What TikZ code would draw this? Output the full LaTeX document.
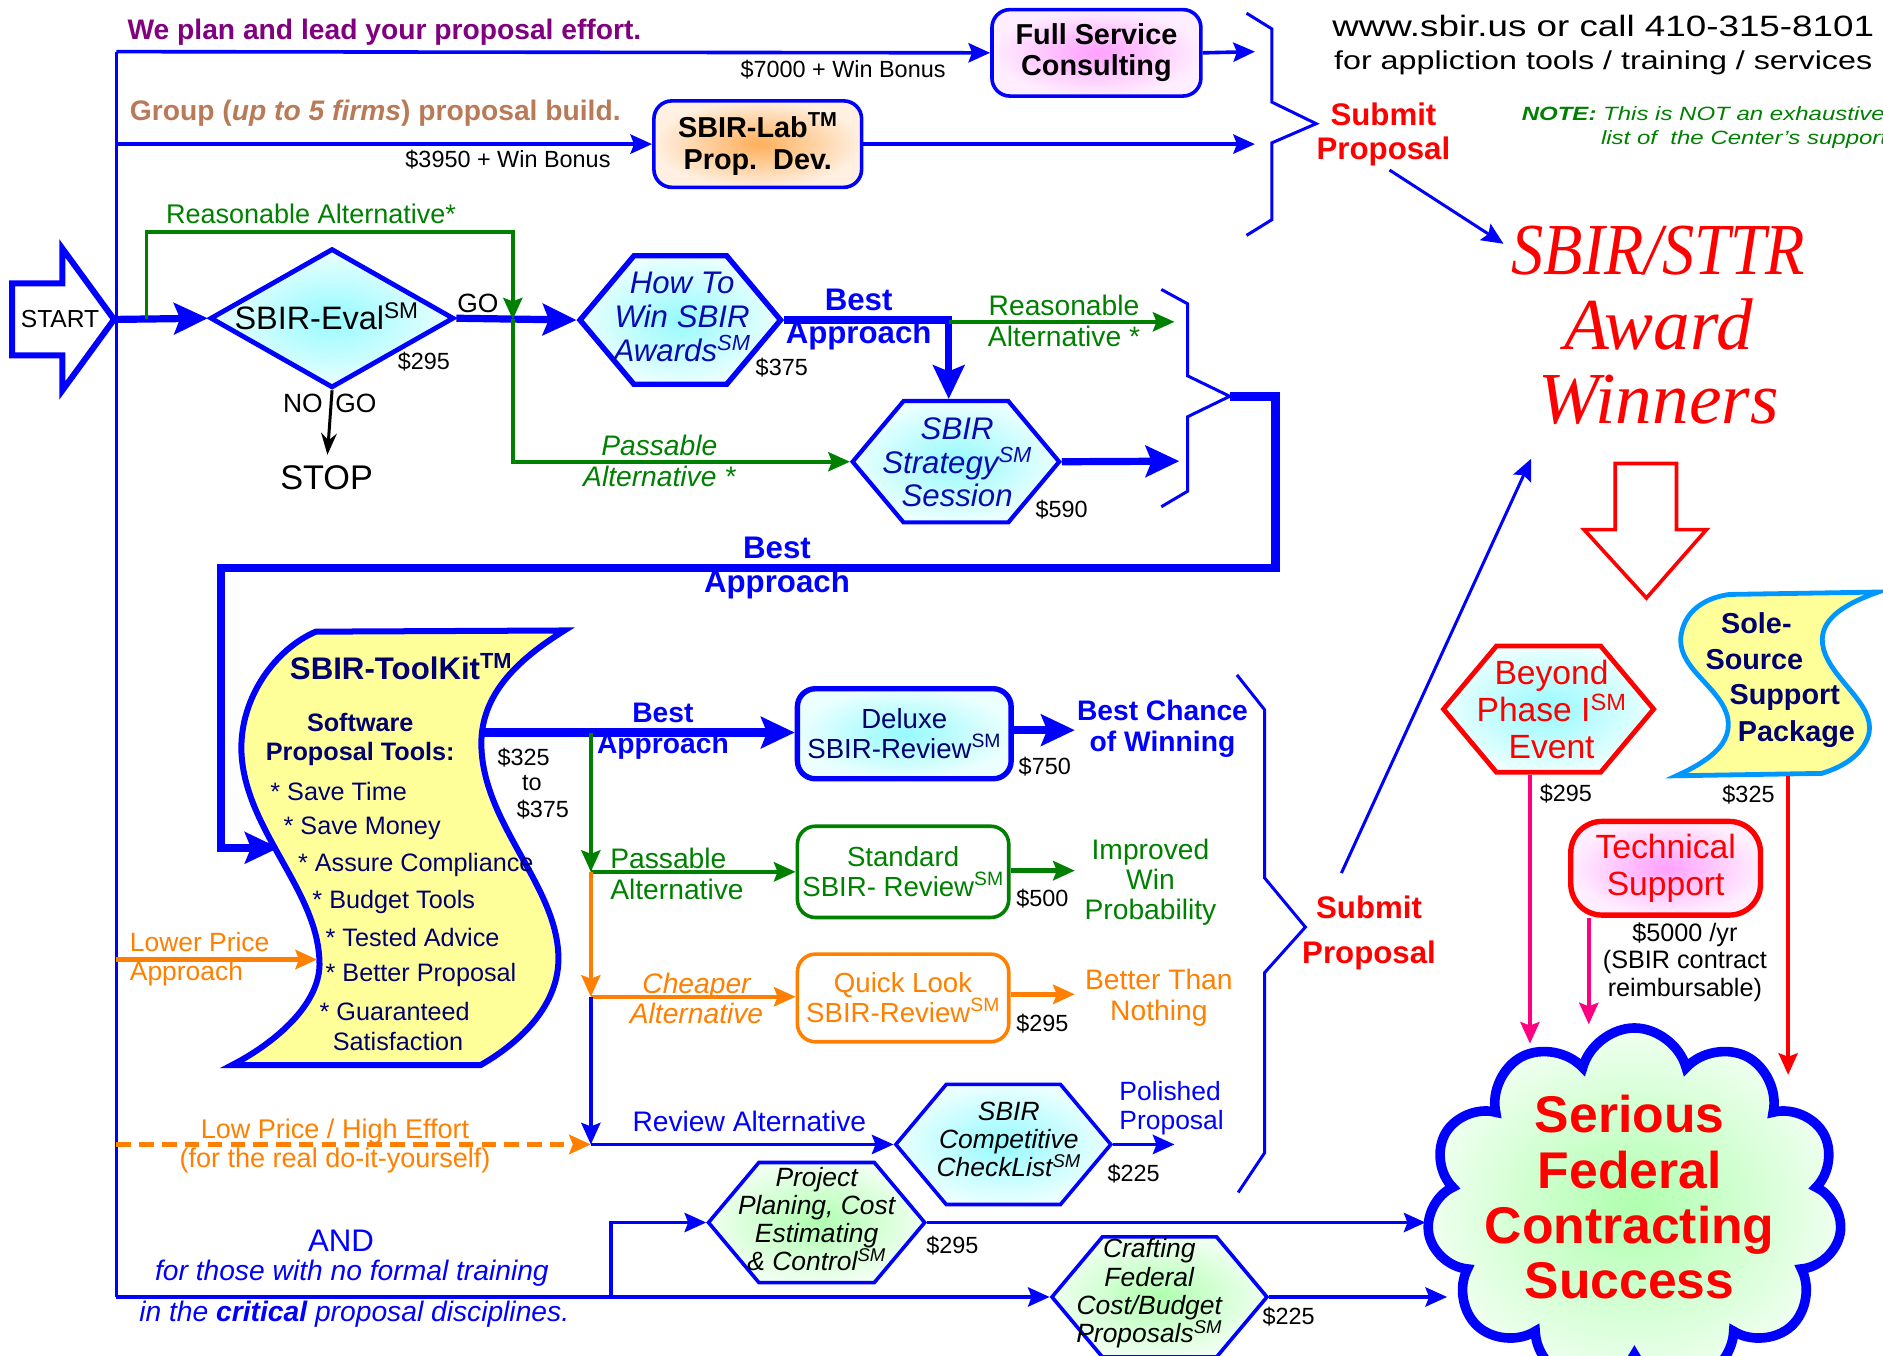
\documentclass[tikz,border=0pt]{standalone}
\usepackage{fontspec}
\setmainfont{Liberation Sans}
\newfontfamily\awardfont{Liberation Serif}
\newfontfamily\awardnarrow{Liberation Serif}[FakeStretch=0.88]
\newfontfamily\widefont{Liberation Sans}[FakeStretch=1.25]
\usetikzlibrary{arrows.meta,shapes.geometric,shapes.symbols}
\newcommand\fsz[2]{\fontsize{#1pt}{#2pt}\selectfont}
\definecolor{sbblue}{RGB}{0,0,255}
\definecolor{sbdeep}{RGB}{10,10,175}
\definecolor{sbnavy}{RGB}{0,0,110}
\definecolor{sbgreen}{RGB}{0,128,0}
\definecolor{sborange}{RGB}{255,128,0}
\definecolor{sbpurple}{RGB}{128,0,128}
\definecolor{sbbrown}{RGB}{185,122,87}
\definecolor{sbred}{RGB}{255,0,0}
\definecolor{sbmag}{RGB}{255,0,128}
\definecolor{sbsky}{RGB}{0,150,255}
\definecolor{sbyellow}{RGB}{255,255,153}
\definecolor{cyanin}{RGB}{150,250,255}
\definecolor{cyanout}{RGB}{235,255,255}
\definecolor{pinkin}{RGB}{255,160,255}
\definecolor{pinkout}{RGB}{255,238,255}
\definecolor{orgin}{RGB}{255,175,90}
\definecolor{orgout}{RGB}{255,240,225}
\definecolor{grnin}{RGB}{175,255,175}
\definecolor{grnout}{RGB}{240,255,240}
\tikzset{
  txt/.style={inner sep=0pt, align=center},
  price/.style={txt, font=\fsz{19.5}{22}},
  thinb/.style={draw=sbblue, line width=3pt},
  thickb/.style={draw=sbblue, line width=6pt},
  grnl/.style={draw=sbgreen, line width=3pt},
  orgl/.style={draw=sborange, line width=3.5pt},
  bigtip/.style={-{Stealth[length=28pt,width=26pt,inset=5pt]}},
  smalltip/.style={-{Stealth[length=18pt,width=16pt,inset=3pt]}},
  hexa/.style={signal, signal to=east and west, signal pointer angle=100,
    inner sep=0pt, line width=3pt},
  roundbox/.style={rectangle, rounded corners=15pt, inner sep=0pt, align=center},
  cyanfill/.style={inner color=cyanin, outer color=cyanout},
  grnfill/.style={inner color=grnin, outer color=grnout},
  hextxt/.style={txt, font=\fsz{26}{28}\itshape, text=sbdeep},
  smhextxt/.style={txt, font=\fsz{22}{23.5}\itshape},
}
\begin{document}
\begin{tikzpicture}[x=1pt,y=-1pt]
\useasboundingbox (0,0) rectangle (1568,1129);

% Left feed line
\coordinate (vtop) at (97,43);
\coordinate (vlab) at (97,120);
\coordinate (vlow) at (97,799);
\coordinate (vdash) at (97,953);
\coordinate (vbot) at (97,1080);
\draw[thinb] (vtop) -- (vbot);

% Top services
\node[roundbox, draw=sbblue, line width=3pt, inner color=pinkin, outer color=pinkout,
  minimum width=174pt, minimum height=72pt, font=\fsz{24}{26}\bfseries] (full) at (913,44) {Full Service\\Consulting};
\node[roundbox, draw=sbblue, line width=3pt, inner color=orgin, outer color=orgout,
  minimum width=173pt, minimum height=72pt, font=\fsz{24}{27}\bfseries] (lab) at (631,120) {SBIR-Lab\textsuperscript{TM}\\Prop.\ \ Dev.};
\node[txt, anchor=west, text=sbpurple, font=\fsz{23.5}{26}\bfseries] (plan) at (106,27) {We plan and lead your proposal effort.};
\node[txt, anchor=west, text=sbbrown, font=\fsz{23.5}{26}\bfseries] (group) at (108,94) {Group (\textit{up to 5 firms}) proposal build.};
\node[price] (fullp) at (702,58) {\$7000 + Win Bonus};
\node[price] (labp) at (423,133) {\$3950 + Win Bonus};
\coordinate (br1a) at (1045,43);
\coordinate (br1b) at (1045,120);
\draw[thinb, smalltip] (vtop) -- (full.west);
\draw[thinb, smalltip] (vlab) -- (lab.west);
\draw[thinb, smalltip] (full.east) -- (br1a);
\draw[thinb, smalltip] (lab.east) -- (br1b);
\draw[sbblue, line width=2.5pt] (1038,11) -- (1059,24) -- (1059,85) -- (1096,103) -- (1059,119) -- (1059,183) -- (1038,196);
\node[txt, text=sbred, font=\fsz{26}{28}\bfseries] (sub1) at (1152,112) {Submit\\Proposal};

% Contact and note
\node[txt, font=\widefont\fsz{24.5}{29}] (url) at (1335,22) {www.sbir.us or call 410-315-8101};
\node[txt, font=\widefont\fsz{21.5}{25}] (url2) at (1335,52) {for appliction tools / training / services};
\node[txt, anchor=west, text=sbgreen, font=\widefont\fsz{16}{20}\itshape] (note1) at (1267,95) {\textbf{NOTE:} This is NOT an exhaustive};
\node[txt, anchor=west, text=sbgreen, font=\widefont\fsz{16}{20}\itshape] (note2) at (1333,116) {list of~ the Center’s support};

% Award winners
\node[txt, text=sbred, font=\awardfont\itshape\fsz{61}{62}] (award) at (1381,271) {{\awardnarrow SBIR/STTR}\\Award\\Winners};
\coordinate (awardin) at (1252,203);
\coordinate (awardup) at (1275,382);
\draw[thinb, line width=2.5pt, smalltip, shorten <=6pt] (sub1.south) -- (awardin);
\draw[sbred, line width=3pt, fill=white] (1345,386) -- (1396,386) -- (1396,441) -- (1421,441) -- (1371,498) -- (1319,441) -- (1345,441) -- cycle;

% Evaluation row
\draw[sbblue, line width=5pt, fill=white] (10,236) -- (52,236) -- (52,207) -- (95,266) -- (52,325) -- (52,296) -- (10,296) -- cycle;
\node[txt, font=\fsz{20.5}{22}] (start) at (50,266) {START};
\coordinate (starttip) at (95,266);
\node[diamond, draw=sbblue, line width=4pt, cyanfill, minimum width=203pt, minimum height=116pt, inner sep=0pt] (eval) at (276.5,265) {};
\node[txt, font=\fsz{27}{29}] (evaltxt) at (272,263) {SBIR-Eval\textsuperscript{SM}};
\node[price] (evalp) at (353,301) {\$295};
\node[txt, font=\fsz{22}{24}] (go) at (398,253) {GO};
\node[txt, anchor=east, font=\fsz{22}{24}] (no) at (269,336) {NO};
\node[txt, anchor=west, font=\fsz{22}{24}] (nogo) at (279,336) {GO};
\node[txt, font=\fsz{28.5}{30}] (stop) at (272,398) {STOP};
\node[hexa, draw=sbblue, line width=4.5pt, cyanfill, minimum width=167pt, minimum height=107pt] (howto) at (566.5,266.5) {};
\node[hextxt] (howtotxt) at (568,264) {How To\\Win SBIR\\Awards\textsuperscript{SM}};
\node[price] (howtop) at (651,306) {\$375};
\node[hexa, draw=sbblue, line width=3.5pt, cyanfill, minimum width=172pt, minimum height=101pt] (strat) at (796,384.5) {};
\node[hextxt] (strattxt) at (797,385) {SBIR\\Strategy\textsuperscript{SM}\\Session};
\node[price] (stratp) at (884,424) {\$590};
\node[txt, text=sbgreen, font=\fsz{22.5}{25}] (reas1) at (259,178) {Reasonable Alternative*};
\node[txt, text=sbgreen, font=\fsz{23.5}{26}\itshape] (pass1) at (549,384) {Passable\\Alternative *};
\node[txt, text=sbblue, font=\fsz{26}{28}\bfseries] (best1) at (715,266) {Best\\Approach};
\node[txt, text=sbgreen, font=\fsz{23.5}{26}] (reas2) at (886,267) {Reasonable\\Alternative *};
\coordinate (jeval) at (122,266);
\coordinate (jgo) at (427,266);
\coordinate (jbest) at (790,268);
\coordinate (reasout) at (978,268);
\coordinate (stratout) at (982,384);
\draw[thickb, bigtip] (starttip) -- (eval.west);
\draw[thickb, bigtip] (eval.east) -- (howto.west);
\draw[grnl, smalltip] (jeval) |- (427,193) -- (jgo);
\draw[grnl, smalltip] (jgo) |- (strat.west);
\draw[black, line width=2.5pt, -{Stealth[length=18pt,width=13pt]}, shorten >=9pt] (eval.south) -- (stop.north);
\draw[thickb, bigtip] (howto.east) -| ([xshift=-6pt]strat.north);
\draw[grnl, smalltip] (jbest) -- (reasout);
\draw[thickb, bigtip] (strat.east) -- (stratout);
\draw[sbblue, line width=2.5pt] (967,241) -- (989,253) -- (989,313) -- (1024,330) -- (989,347) -- (989,409) -- (967,422);
\coordinate (br2) at (1024,330);
\coordinate (tkin) at (232,706);
\draw[thickb, line width=7pt, bigtip] (br2) -- (1062,330) -- (1062,473) -- (184,473) -- (184,706) -- (tkin);
\node[txt, text=sbblue, font=\fsz{26}{28}\bfseries] (best2) at (647,473) {Best\\Approach};

% Toolkit
\path[draw=sbblue, line width=5pt, fill=sbyellow] (263,526) -- (470,525)
  .. controls (430,550) and (398,580) .. (401,625)
  .. controls (405,690) and (466,740) .. (465,800)
  .. controls (464,840) and (430,870) .. (400,887) -- (193,887)
  .. controls (230,868) and (268,835) .. (266,800)
  .. controls (264,740) and (203,690) .. (201,625)
  .. controls (200,580) and (230,540) .. (263,526) -- cycle;
\node[txt, text=sbnavy, font=\fsz{26}{28}\bfseries] (tkhead) at (334,555) {SBIR-ToolKit\textsuperscript{TM}};
\node[txt, text=sbnavy, font=\fsz{21}{24}\bfseries] (tksoft) at (300,616) {Software\\Proposal Tools:};
\foreach \x/\y/\t [count=\i] in {225/659/{* Save Time}, 236/690/{* Save Money}, 248/720/{* Assure Compliance},
  260/751/{* Budget Tools}, 271/781/{* Tested Advice}, 271/812/{* Better Proposal}, 266/842/{* Guaranteed}, 277/867/{Satisfaction}}
  \node[txt, anchor=west, text=sbnavy, font=\fsz{21}{24}] (tkb\i) at (\x,\y) {\t};
\foreach \x/\y/\t [count=\i] in {436/631/\$325, 443/652/to, 452/674/\$375}
  \node[price] (tkp\i) at (\x,\y) {\t};
\coordinate (tkout) at (401,610);
\coordinate (tklow) at (264,799);

% Review options
\node[roundbox, draw=sbblue, line width=4.5pt, cyanfill, minimum width=178pt, minimum height=75pt,
  text=sbnavy, font=\fsz{23}{25}] (deluxe) at (753,611) {Deluxe\\SBIR-Review\textsuperscript{SM}};
\node[roundbox, draw=sbgreen, line width=3pt, fill=white, minimum width=176pt, minimum height=76pt,
  text=sbgreen, font=\fsz{23}{25}] (standard) at (752,726) {Standard\\SBIR- Review\textsuperscript{SM}};
\node[roundbox, draw=sborange, line width=3pt, fill=white, minimum width=176pt, minimum height=73pt,
  text=sborange, font=\fsz{23}{25}] (quick) at (752,831) {Quick Look\\SBIR-Review\textsuperscript{SM}};
\node[price] (deluxep) at (870,638) {\$750};
\node[price] (standardp) at (868,748) {\$500};
\node[price] (quickp) at (868,852) {\$295};
\node[txt, text=sbblue, font=\fsz{23.5}{26}\bfseries] (best3) at (552,609) {Best\\Approach};
\node[txt, anchor=west, align=left, text=sbgreen, font=\fsz{23.5}{26}] (pass2) at (508,728) {Passable\\Alternative};
\node[txt, text=sborange, font=\fsz{23.5}{25}\itshape] (cheap) at (580,831) {Cheaper\\Alternative};
\node[txt, text=sbblue, font=\fsz{23.5}{26}] (revalt) at (624,934) {Review Alternative};
\node[txt, text=sbblue, font=\fsz{23.5}{26}\bfseries] (chance) at (968,607) {Best Chance\\of Winning};
\node[txt, text=sbgreen, font=\fsz{23.5}{25}] (improved) at (958,735) {Improved\\Win\\Probability};
\node[txt, text=sborange, font=\fsz{23.5}{26}] (better) at (965,831) {Better Than\\Nothing};
\node[txt, anchor=west, align=left, text=sborange, font=\fsz{22}{24}] (lower) at (108,799) {Lower Price\\Approach};
\node[txt, text=sborange, font=\fsz{22.5}{24}] (lowhigh) at (279,954) {Low Price / High Effort\\(for the real do-it-yourself)};
\node[hexa, draw=sbblue, line width=3pt, cyanfill, minimum width=179pt, minimum height=100pt] (check) at (835.5,953) {};
\node[smhextxt] (checktxt) at (840,949) {SBIR\\Competitive\\CheckList\textsuperscript{SM}};
\node[price] (checkp) at (944,977) {\$225};
\node[txt, anchor=west, align=left, text=sbblue, font=\fsz{22}{24}] (polished) at (932,923) {Polished\\Proposal};
\coordinate (jg) at (492,610);
\coordinate (jo) at (492,726);
\coordinate (jr) at (492,830);
\coordinate (jb) at (492,953);
\draw[thickb, line width=7pt, bigtip] (tkout) -- (deluxe.west |- tkout);
\draw[grnl, smalltip] (jg) -- (jo);
\draw[grnl, line width=3.5pt, smalltip] (jo) -- (standard.west);
\draw[orgl, line width=3pt, smalltip] (jo) -- (jr);
\draw[orgl, smalltip] (jr) -- (quick.west |- jr);
\draw[thinb, smalltip] (jr) -- (jb);
\draw[thinb, smalltip] (jb) -- (check.west);
\draw[orgl, line width=4pt, dash pattern=on 12pt off 7pt, smalltip] (vdash) -- (jb);
\draw[orgl, smalltip] (vlow) -- (tklow);
\coordinate (chanceout) at (895,608);
\coordinate (improvedout) at (895,725);
\coordinate (betterout) at (895,828);
\coordinate (polishedout) at (978,953);
\draw[thickb, line width=7pt, bigtip] (deluxe.east |- chanceout) -- (chanceout);
\draw[grnl, line width=4pt, smalltip] (standard.east |- improvedout) -- (improvedout);
\draw[orgl, line width=4pt, smalltip] (quick.east |- betterout) -- (betterout);
\draw[thinb, smalltip] (check.east) -- (polishedout);
\draw[sbblue, line width=2.5pt] (1030,562) -- (1053,591) -- (1053,731) -- (1087,772) -- (1053,810) -- (1053,960) -- (1031,993);
\node[txt, text=sbred, font=\fsz{26}{37}\bfseries] (sub2) at (1140,777) {Submit\\Proposal};
\coordinate (sub2out) at (1117,727);
\draw[thinb, line width=2.5pt, smalltip] (sub2out) -- (awardup);

% Training courses
\node[txt, text=sbblue, font=\fsz{26}{28}] (and) at (284,1033) {AND};
\node[txt, text=sbblue, font=\fsz{23.5}{26}\itshape] (train1) at (293,1060) {for those with no formal training};
\node[txt, text=sbblue, font=\fsz{23.5}{26}\itshape] (train2) at (295,1094) {in the \textbf{critical} proposal disciplines.};
\node[hexa, draw=sbblue, line width=3pt, grnfill, minimum width=180pt, minimum height=100pt] (proj) at (680,1018) {};
\node[smhextxt] (projtxt) at (680,1015) {Project\\Planing, Cost\\Estimating\\\& Control\textsuperscript{SM}};
\node[price] (projp) at (793,1037) {\$295};
\node[hexa, draw=sbblue, line width=3pt, grnfill, minimum width=179pt, minimum height=100pt] (craft) at (965.5,1080) {};
\node[smhextxt] (crafttxt) at (957,1077) {Crafting\\Federal\\Cost/Budget\\Proposals\textsuperscript{SM}};
\node[price] (craftp) at (1073,1096) {\$225};

% Success cloud and support services
\node[cloud, cloud puffs=11, cloud ignores aspect, draw=sbblue, line width=8pt, grnfill,
  minimum width=346pt, minimum height=300pt, inner sep=0pt] (success) at (1361,1006) {};
\node[txt, text=sbred, font=\fsz{43}{46}\bfseries] (successtxt) at (1357,997) {Serious\\Federal\\Contracting\\Success};
\coordinate (jp) at (509,1080);
\coordinate (cin1) at (1187,1018);
\coordinate (cin2) at (1205,1080);
\draw[thinb, smalltip] (vbot) -- (craft.west);
\draw[thinb, smalltip] (jp) |- (proj.west);
\draw[thinb, smalltip] (proj.east) -- (cin1);
\draw[thinb, smalltip] (craft.east) -- (cin2);
\node[hexa, draw=sbred, line width=4pt, cyanfill, minimum width=175pt, minimum height=105pt] (beyond) at (1289.5,590.5) {};
\node[txt, text=sbred, font=\fsz{28}{31}] (beyondtxt) at (1292,591) {Beyond\\Phase I\textsuperscript{SM}\\Event};
\node[price] (beyondp) at (1304,661) {\$295};
\path[draw=sbsky, line width=4pt, fill=sbyellow] (1440,495) -- (1564,493)
  .. controls (1530,505) and (1510,520) .. (1520,545)
  .. controls (1530,570) and (1565,590) .. (1555,615)
  .. controls (1548,632) and (1530,640) .. (1517,644) -- (1396,646)
  .. controls (1420,635) and (1445,620) .. (1438,595)
  .. controls (1430,570) and (1395,555) .. (1400,528)
  .. controls (1404,505) and (1425,497) .. (1440,495) -- cycle;
\foreach \x/\y/\t [count=\i] in {1433/519/Sole-, 1420/549/Source, 1440/581/Support, 1447/611/Package}
  \node[txt, anchor=west, text=sbnavy, font=\fsz{24}{26}\bfseries] (sole\i) at (\x,\y) {\t};
\node[price] (solep) at (1456,662) {\$325};
\node[roundbox, rounded corners=26pt, draw=sbred, line width=4.5pt, inner color=pinkin, outer color=pinkout,
  minimum width=158pt, minimum height=78pt, text=sbred, font=\fsz{28}{31}] (tech) at (1387,723) {Technical\\Support};
\node[txt, font=\fsz{21}{23}] (techp) at (1403,801) {\$5000 /yr\\(SBIR contract\\reimbursable)};
\coordinate (bin) at (1274,869);
\coordinate (tin) at (1323,853);
\coordinate (soleout) at (1489,646);
\coordinate (solein) at (1489,895);
\draw[sbmag, line width=3pt, smalltip] (bin |- beyond.south) -- (bin);
\draw[sbmag, line width=3pt, smalltip] (tin |- tech.south) -- (tin);
\draw[sbred, line width=3pt, smalltip] (soleout) -- (solein);
\end{tikzpicture}
\end{document}
